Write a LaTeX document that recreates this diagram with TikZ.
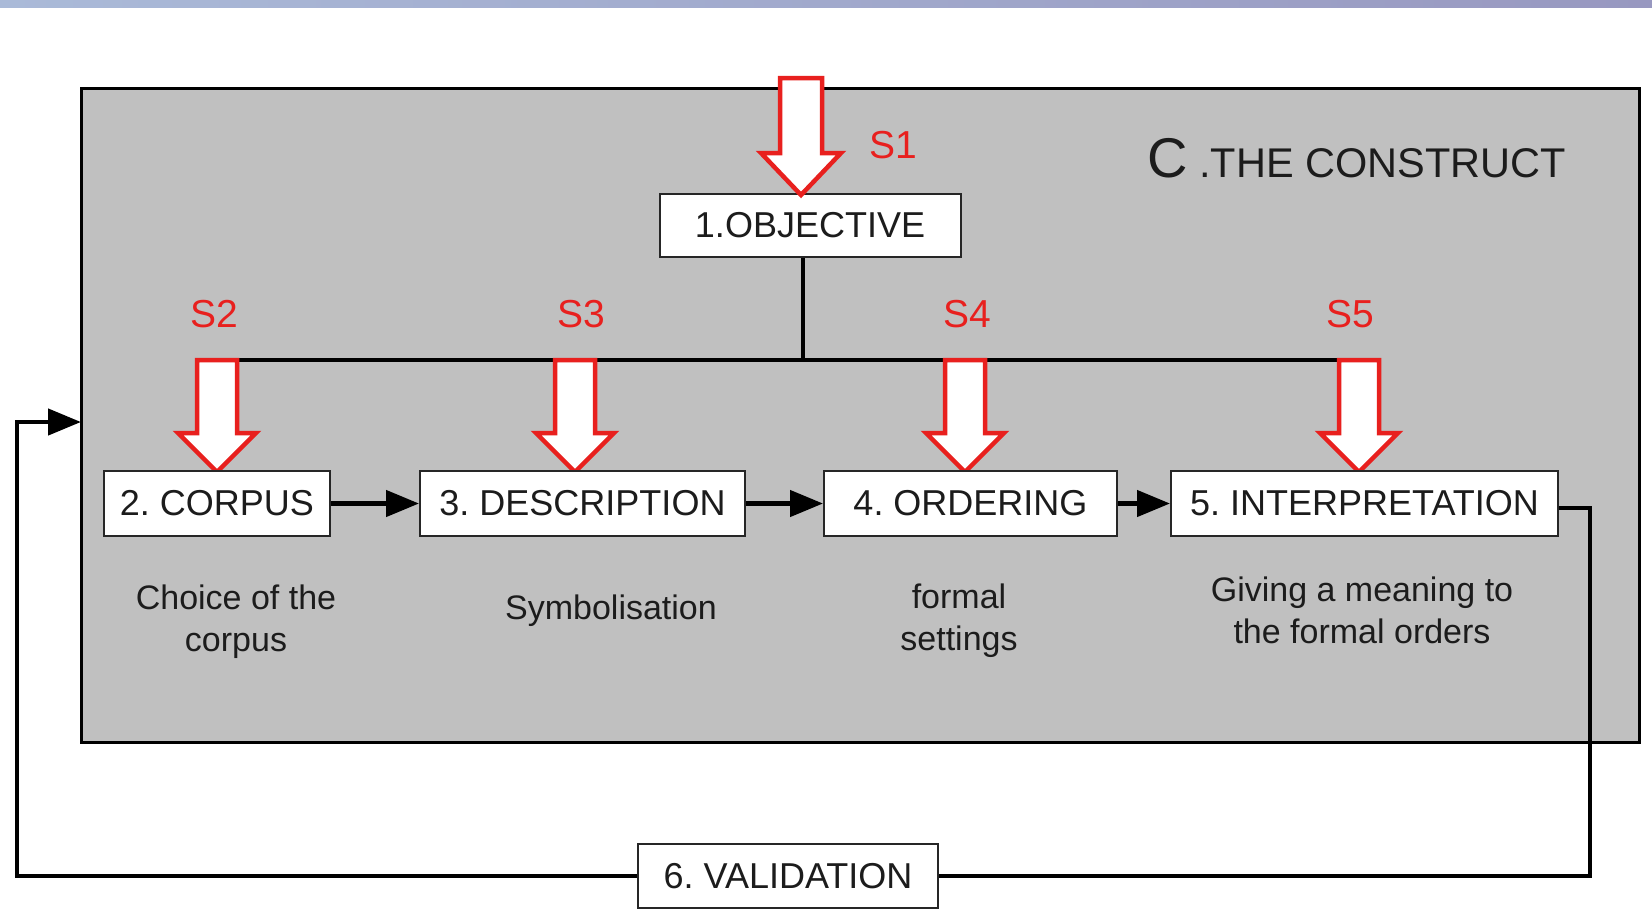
\documentclass[tikz,border=0pt]{standalone}
\usepackage{fontspec}
\setmainfont{Liberation Sans}
\usetikzlibrary{arrows.meta,calc}
\definecolor{boxgray}{RGB}{192,192,192}
\definecolor{sred}{RGB}{232,32,30}
\definecolor{txt}{RGB}{28,28,28}
\definecolor{bandl}{RGB}{170,186,216}
\definecolor{bandr}{RGB}{152,152,192}
\newcommand{\redarrow}[6]{%
  \draw[sred, line width=4.5pt, fill=white, line join=miter]
    (#1-#5,#2) -- (#1+#5,#2) -- (#1+#5,#3) -- (#1+#6,#3) -- (#1,#4)
    -- (#1-#6,#3) -- (#1-#5,#3) -- cycle;}
\frenchspacing
\begin{document}
\begin{tikzpicture}[x=1pt,y=-1pt,
  stepbox/.style={draw=black!85, line width=2pt, fill=white, inner sep=0pt,
    font=\fontsize{36}{42}\selectfont, text=txt},
  lab/.style={font=\fontsize{34}{42}\selectfont, align=center, text=txt},
  slab/.style={font=\fontsize{39}{39}\selectfont, text=sred},
  wire/.style={line width=4.5pt, draw=black},
  conn/.style={wire, -{Triangle[length=33pt,width=26pt]}}]
\useasboundingbox (0,0) rectangle (1652,914);
\fill[white] (0,0) rectangle (1652,914);
\shade[left color=bandl, right color=bandr] (0,0) rectangle (1652,7);
% construct frame
\draw[line width=3pt, fill=boxgray] (81,88) rectangle (1639,742);
\node[anchor=base west, inner sep=0pt, text=txt] (title) at (1147,177)
  {{\fontsize{56}{56}\selectfont C}{\fontsize{41.5}{41.5}\selectfont\ .THE CONSTRUCT}};
% bus
\coordinate (j) at (803,360);
\coordinate (busl) at (217,360);
\coordinate (busr) at (1359,360);
\draw[wire] (busl) -- (busr);
% objective
\node[stepbox, minimum width=301pt, minimum height=63pt] (obj) at (810,225.5) {1.OBJECTIVE};
\draw[wire] (j |- obj.south) -- (j);
% red arrows
\redarrow{801}{78}{153}{195}{21}{40}
\redarrow{217}{360}{433}{472}{20}{39}
\redarrow{575}{360}{433}{472}{20}{39}
\redarrow{965}{360}{433}{472}{20}{39}
\redarrow{1359}{360}{433}{472}{20}{39}
\node[slab] (s1) at (893,145) {S1};
\node[slab] (s2) at (214,314) {S2};
\node[slab] (s3) at (581,314) {S3};
\node[slab] (s4) at (967,314) {S4};
\node[slab] (s5) at (1350,314) {S5};
% step boxes
\node[stepbox, minimum width=226pt, minimum height=65pt] (cor) at (217,503.5) {2. CORPUS};
\node[stepbox, minimum width=325pt, minimum height=65pt] (des) at (582.5,503.5) {3. DESCRIPTION};
\node[stepbox, minimum width=293pt, minimum height=65pt] (ord) at (970.5,503.5) {4. ORDERING};
\node[stepbox, minimum width=387pt, minimum height=65pt] (int) at (1364.5,503.5) {5. INTERPRETATION};
\node[stepbox, minimum width=300pt, minimum height=64pt] (val) at (788,876) {6. VALIDATION};
\draw[conn] (cor) -- (des);
\draw[conn] (des) -- (ord);
\draw[conn] (ord) -- (int);
% labels
\node[lab] (l2) at (236,622) {Choice of the\\corpus};
\node[lab] (l3) at (611,611) {Symbolisation};
\node[lab] (l4) at (959,621) {formal\\settings};
\node[lab] (l5) at (1362,610) {Giving a meaning to\\the formal orders};
% feedback loop
\coordinate (rc) at (1590,508);
\coordinate (lc) at (17,422);
\coordinate (entry) at (81,422);
\draw[wire] (int.east |- rc) -- (rc) |- (val.east);
\draw[conn] (val.west) -| (lc) -- (entry);
\end{tikzpicture}
\end{document}
